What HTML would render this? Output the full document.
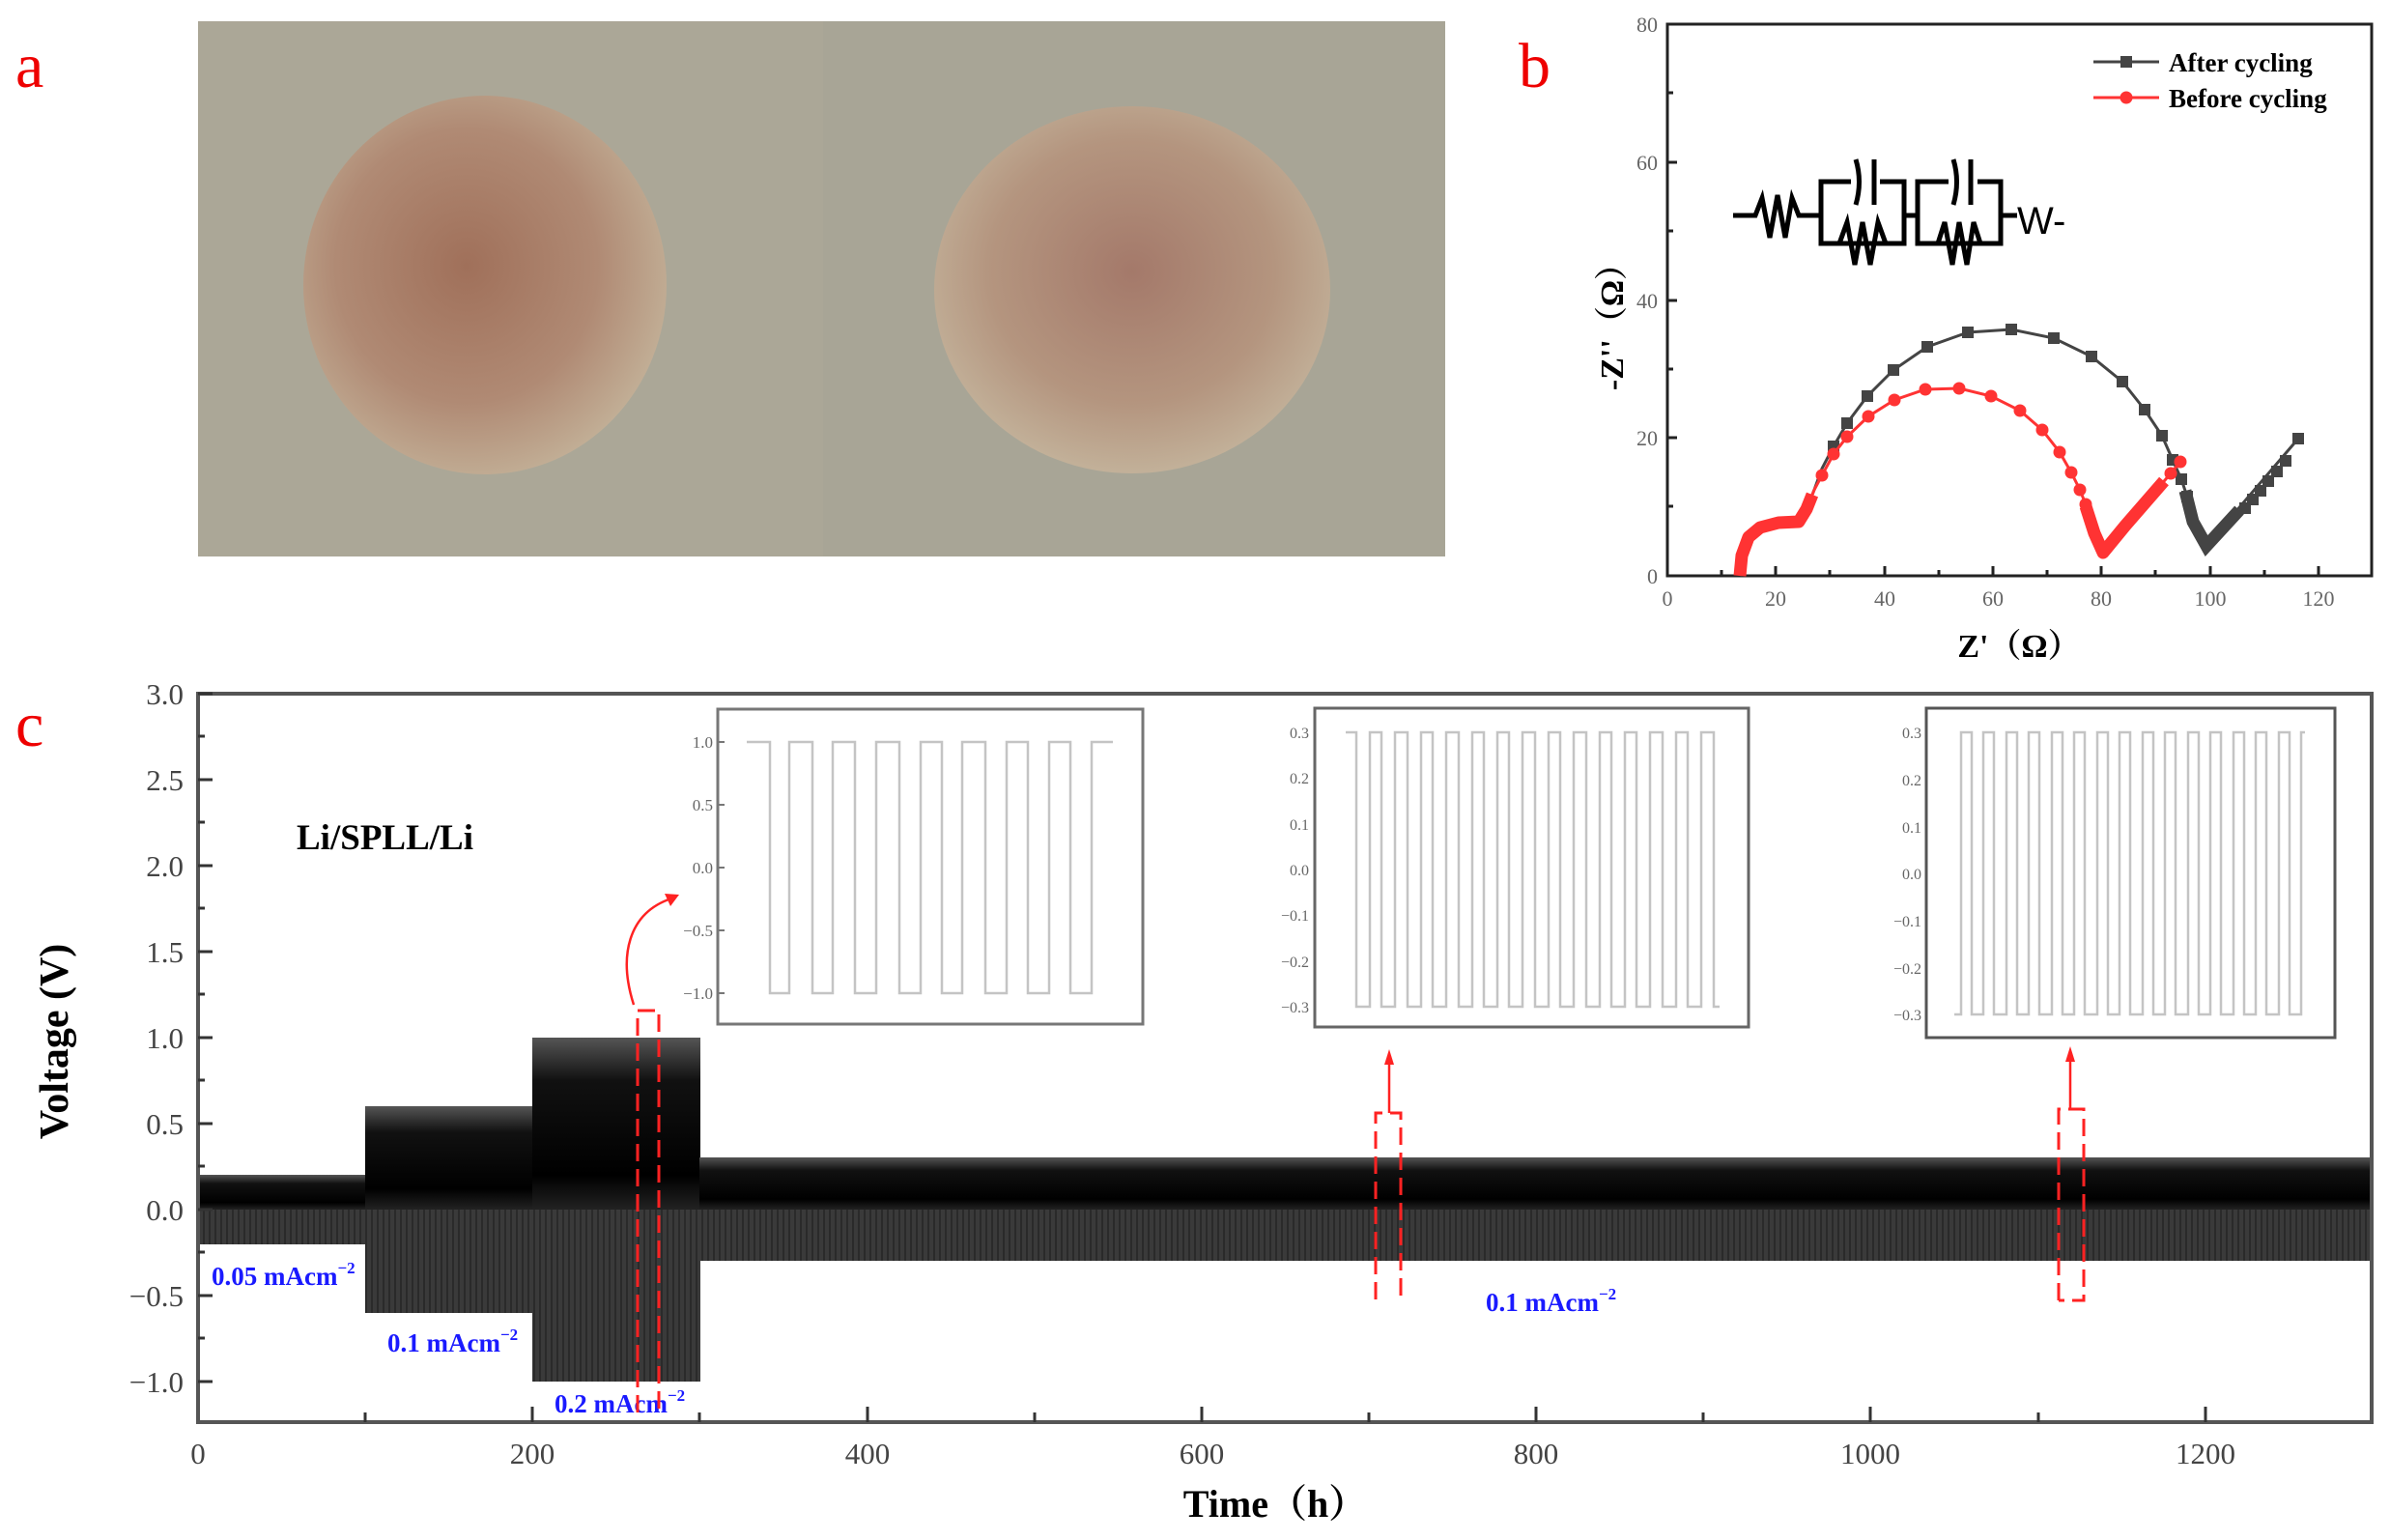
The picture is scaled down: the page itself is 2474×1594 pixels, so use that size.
<!DOCTYPE html>
<html><head><meta charset="utf-8"><style>
html,body{margin:0;padding:0;background:#fff}
svg{display:block}
</style></head><body>
<svg width="2474" height="1594" viewBox="0 0 2474 1594" xmlns="http://www.w3.org/2000/svg" font-family="Liberation Serif, serif">
<defs>
<radialGradient id="d1" cx="0.45" cy="0.45" r="0.6">
<stop offset="0" stop-color="#a0705a"/><stop offset="0.6" stop-color="#b08a74"/><stop offset="1" stop-color="#c4b39a"/></radialGradient>
<radialGradient id="d2" cx="0.5" cy="0.45" r="0.6">
<stop offset="0" stop-color="#a4796a"/><stop offset="0.6" stop-color="#b4957f"/><stop offset="1" stop-color="#c6b8a0"/></radialGradient>
<linearGradient id="up" x1="0" y1="0" x2="0" y2="1">
<stop offset="0" stop-color="#555"/><stop offset="0.25" stop-color="#111"/><stop offset="0.8" stop-color="#000"/><stop offset="1" stop-color="#222"/></linearGradient>
<pattern id="str" width="6" height="10" patternUnits="userSpaceOnUse"><rect width="6" height="10" fill="#3a3a3a"/><rect width="2" height="10" fill="#2a2a2a"/></pattern>
</defs>

<!-- panel a -->
<rect x="205" y="22" width="1291" height="554" fill="#aba797"/>
<rect x="852" y="22" width="644" height="554" fill="#a8a596"/>
<ellipse cx="502" cy="295" rx="188" ry="196" fill="url(#d1)"/>
<ellipse cx="1172" cy="300" rx="205" ry="190" fill="url(#d2)"/>
<text x="16" y="90" font-size="66" fill="#e00">a</text>
<text x="1572" y="90" font-size="66" fill="#e00">b</text>
<text x="16" y="772" font-size="66" fill="#e00">c</text>

<!-- panel b -->
<rect x="1726" y="25" width="729" height="571" fill="none" stroke="#222" stroke-width="3"/>
<g stroke="#222" stroke-width="3">
<line x1="1726" y1="596" x2="1736" y2="596"/>
<line x1="1726" y1="453" x2="1736" y2="453"/><line x1="1726" y1="382" x2="1732" y2="382"/>
<line x1="1726" y1="311" x2="1736" y2="311"/><line x1="1726" y1="239" x2="1732" y2="239"/>
<line x1="1726" y1="168" x2="1736" y2="168"/><line x1="1726" y1="96" x2="1732" y2="96"/>
<line x1="1726" y1="524" x2="1732" y2="524"/>
<line x1="1838" y1="596" x2="1838" y2="586"/><line x1="1951" y1="596" x2="1951" y2="586"/><line x1="2063" y1="596" x2="2063" y2="586"/><line x1="2175" y1="596" x2="2175" y2="586"/><line x1="2288" y1="596" x2="2288" y2="586"/><line x1="2400" y1="596" x2="2400" y2="586"/>
<line x1="1782" y1="596" x2="1782" y2="590"/><line x1="1894" y1="596" x2="1894" y2="590"/><line x1="2007" y1="596" x2="2007" y2="590"/><line x1="2119" y1="596" x2="2119" y2="590"/><line x1="2231" y1="596" x2="2231" y2="590"/><line x1="2344" y1="596" x2="2344" y2="590"/>
</g>
<g font-size="22" fill="#666" text-anchor="end">
<text x="1716" y="604">0</text><text x="1716" y="461">20</text><text x="1716" y="319">40</text><text x="1716" y="176">60</text><text x="1716" y="33">80</text>
</g>
<g font-size="22" fill="#666" text-anchor="middle">
<text x="1726" y="627">0</text><text x="1838" y="627">20</text><text x="1951" y="627">40</text><text x="2063" y="627">60</text><text x="2175" y="627">80</text><text x="2288" y="627">100</text><text x="2400" y="627">120</text>
</g>
<text x="2090" y="680" font-size="34" font-weight="bold" text-anchor="middle" font-family="Liberation Serif, Noto Serif CJK SC, serif">Z'（Ω）</text>
<text transform="translate(1680,330) rotate(-90)" font-size="34" font-weight="bold" text-anchor="middle" font-family="Liberation Serif, Noto Serif CJK SC, serif">-Z''（Ω）</text>

<!-- circuit -->
<g fill="none" stroke="#000" stroke-width="5">
<path d="M1794,223 H1817 L1824,205 L1832,246 L1840,202 L1848,246 L1855,205 L1862,223 H1885"/>
<rect x="1885" y="188" width="86" height="64"/>
<path d="M1971,223 H1985"/>
<rect x="1985" y="188" width="86" height="64"/>
<path d="M2071,223 H2088"/>
<path d="M1904,252 L1912,230 L1920,274 L1928,230 L1936,274 L1944,230 L1952,252"/>
<path d="M2006,252 L2013,230 L2021,274 L2028,230 L2036,274 L2043,230 L2050,252"/>
</g>
<g stroke="#000" stroke-width="5" fill="none">
<rect x="1916" y="180" width="30" height="16" fill="#fff" stroke="none"/>
<path d="M1921,165 Q1928,188 1921,212"/><line x1="1940" y1="165" x2="1940" y2="212"/>
<rect x="2017" y="180" width="30" height="16" fill="#fff" stroke="none"/>
<path d="M2022,165 Q2029,188 2022,212"/><line x1="2040" y1="165" x2="2040" y2="212"/>
</g>
<text x="2088" y="242" font-size="40" font-family="Liberation Sans, sans-serif">W-</text>

<!-- legend -->
<line x1="2167" y1="64" x2="2235" y2="64" stroke="#444" stroke-width="3"/>
<rect x="2195" y="58" width="12" height="12" fill="#444"/>
<text x="2245" y="74" font-size="27" font-weight="bold">After cycling</text>
<line x1="2167" y1="101" x2="2235" y2="101" stroke="#f33" stroke-width="3"/>
<circle cx="2201" cy="101" r="6.5" fill="#f33"/>
<text x="2245" y="111" font-size="27" font-weight="bold">Before cycling</text>

<!-- black series -->
<g>
<polyline fill="none" stroke="#444" stroke-width="3" points="1801,596 1805,567 1820,547 1841,541 1860,541 1870,527 1878,507 1886,485 1898,462 1912,438 1933,410 1960,383 1995,359 2037,344 2082,341 2126,350 2165,369 2197,395 2220,424 2238,451 2249,476 2258,496 2264,514 2284,565 2379,454"/>
<polyline fill="none" stroke="#444" stroke-width="13" points="2262,508 2270,540 2284,565 2318,528"/>
<g fill="#444">
<rect x="1892" y="456" width="12" height="12"/><rect x="1906" y="432" width="12" height="12"/><rect x="1927" y="404" width="12" height="12"/><rect x="1954" y="377" width="12" height="12"/><rect x="1989" y="353" width="12" height="12"/><rect x="2031" y="338" width="12" height="12"/><rect x="2076" y="335" width="12" height="12"/><rect x="2120" y="344" width="12" height="12"/><rect x="2159" y="363" width="12" height="12"/><rect x="2191" y="389" width="12" height="12"/><rect x="2214" y="418" width="12" height="12"/><rect x="2232" y="445" width="12" height="12"/><rect x="2243" y="470" width="12" height="12"/><rect x="2252" y="490" width="12" height="12"/><rect x="2258" y="508" width="12" height="12"/>
<rect x="2318" y="520" width="12" height="12"/><rect x="2326" y="511" width="12" height="12"/><rect x="2334" y="502" width="12" height="12"/><rect x="2342" y="492" width="12" height="12"/><rect x="2351" y="482" width="12" height="12"/><rect x="2360" y="471" width="12" height="12"/><rect x="2373" y="448" width="12" height="12"/>
</g>
</g>
<!-- red series -->
<g>
<polyline fill="none" stroke="#f33" stroke-width="3" points="1801,596 1805,567 1820,547 1841,541 1860,541 1870,527 1878,507 1886,492 1898,470 1912,452 1934,431 1961,414 1993,403 2028,402 2061,410 2091,425 2114,445 2132,468 2144,489 2153,507 2159,522 2177,572 2247,490 2257,478"/>
<polyline fill="none" stroke="#f33" stroke-width="13" stroke-linejoin="round" points="1801,596 1803,575 1810,556 1822,546 1841,541 1862,540 1870,527 1876,512"/>
<polyline fill="none" stroke="#f33" stroke-width="13" stroke-linejoin="round" points="2159,524 2168,552 2177,572 2200,544 2240,498"/>
<g fill="#f33">
<circle cx="1886" cy="492" r="6.5"/><circle cx="1898" cy="470" r="6.5"/><circle cx="1912" cy="452" r="6.5"/><circle cx="1934" cy="431" r="6.5"/><circle cx="1961" cy="414" r="6.5"/><circle cx="1993" cy="403" r="6.5"/><circle cx="2028" cy="402" r="6.5"/><circle cx="2061" cy="410" r="6.5"/><circle cx="2091" cy="425" r="6.5"/><circle cx="2114" cy="445" r="6.5"/><circle cx="2132" cy="468" r="6.5"/><circle cx="2144" cy="489" r="6.5"/><circle cx="2153" cy="507" r="6.5"/><circle cx="2159" cy="522" r="6.5"/><circle cx="2247" cy="490" r="6.5"/><circle cx="2257" cy="478" r="6.5"/>
</g>
</g>

<!-- panel c -->
<!-- bands -->
<rect x="205" y="1216" width="173" height="36" fill="url(#up)"/>
<rect x="205" y="1252" width="173" height="36" fill="url(#str)"/>
<rect x="378" y="1145" width="173" height="107" fill="url(#up)"/>
<rect x="378" y="1252" width="173" height="107" fill="url(#str)"/>
<rect x="551" y="1074" width="174" height="178" fill="url(#up)"/>
<rect x="551" y="1252" width="174" height="178" fill="url(#str)"/>
<rect x="724" y="1198" width="1731" height="54" fill="url(#up)"/>
<rect x="724" y="1252" width="1731" height="53" fill="url(#str)"/>

<rect x="205" y="718" width="2250" height="754" fill="none" stroke="#555" stroke-width="4"/>
<g stroke="#333" stroke-width="3">
<line x1="205" y1="718" x2="220" y2="718"/><line x1="205" y1="807" x2="220" y2="807"/><line x1="205" y1="896" x2="220" y2="896"/><line x1="205" y1="985" x2="220" y2="985"/><line x1="205" y1="1074" x2="220" y2="1074"/><line x1="205" y1="1163" x2="220" y2="1163"/><line x1="205" y1="1252" x2="220" y2="1252"/><line x1="205" y1="1341" x2="220" y2="1341"/><line x1="205" y1="1430" x2="220" y2="1430"/>
<line x1="205" y1="762" x2="212" y2="762"/><line x1="205" y1="851" x2="212" y2="851"/><line x1="205" y1="940" x2="212" y2="940"/><line x1="205" y1="1029" x2="212" y2="1029"/><line x1="205" y1="1118" x2="212" y2="1118"/><line x1="205" y1="1207" x2="212" y2="1207"/><line x1="205" y1="1296" x2="212" y2="1296"/><line x1="205" y1="1385" x2="212" y2="1385"/>
<line x1="378" y1="1472" x2="378" y2="1462"/><line x1="551" y1="1472" x2="551" y2="1456"/><line x1="724" y1="1472" x2="724" y2="1462"/><line x1="898" y1="1472" x2="898" y2="1456"/><line x1="1071" y1="1472" x2="1071" y2="1462"/><line x1="1244" y1="1472" x2="1244" y2="1456"/><line x1="1417" y1="1472" x2="1417" y2="1462"/><line x1="1590" y1="1472" x2="1590" y2="1456"/><line x1="1763" y1="1472" x2="1763" y2="1462"/><line x1="1936" y1="1472" x2="1936" y2="1456"/><line x1="2110" y1="1472" x2="2110" y2="1462"/><line x1="2283" y1="1472" x2="2283" y2="1456"/>
</g>
<g font-size="31" fill="#444" text-anchor="end">
<text x="190" y="729">3.0</text><text x="190" y="818">2.5</text><text x="190" y="907">2.0</text><text x="190" y="996">1.5</text><text x="190" y="1085">1.0</text><text x="190" y="1174">0.5</text><text x="190" y="1263">0.0</text><text x="190" y="1352">−0.5</text><text x="190" y="1441">−1.0</text>
</g>
<g font-size="31" fill="#444" text-anchor="middle">
<text x="205" y="1515">0</text><text x="551" y="1515">200</text><text x="898" y="1515">400</text><text x="1244" y="1515">600</text><text x="1590" y="1515">800</text><text x="1936" y="1515">1000</text><text x="2283" y="1515">1200</text>
</g>
<text x="1320" y="1570" font-size="40" font-weight="bold" text-anchor="middle" font-family="Liberation Serif, Noto Serif CJK SC, serif">Time（h）</text>
<text transform="translate(70,1078) rotate(-90)" font-size="42" font-weight="bold" text-anchor="middle">Voltage (V)</text>
<text x="307" y="879" font-size="37" font-weight="bold">Li/SPLL/Li</text>
<g font-size="27" font-weight="bold" fill="#1a1aff">
<text x="219" y="1330">0.05 mAcm<tspan font-size="17" dy="-12">−2</tspan></text>
<text x="401" y="1399">0.1 mAcm<tspan font-size="17" dy="-12">−2</tspan></text>
<text x="574" y="1462">0.2 mAcm<tspan font-size="17" dy="-12">−2</tspan></text>
<text x="1538" y="1357">0.1 mAcm<tspan font-size="17" dy="-12">−2</tspan></text>
</g>

<!-- red markers -->
<g fill="none" stroke="#f22" stroke-width="3" stroke-dasharray="18,8">
<path d="M660,1462 V1046 H682 V1462"/>
<path d="M1424,1345 V1152 H1450 V1345"/>
<path d="M2131,1346 V1148 H2157 V1346 H2131"/>
</g>
<g fill="none" stroke="#f22" stroke-width="2.5">
<path d="M656,1040 C640,990 650,945 695,930"/>
<path d="M1438,1152 V1100"/>
<path d="M2143,1148 V1095"/>
</g>
<g fill="#f22">
<path d="M703,926 L688,925 L694,938 Z"/>
<path d="M1438,1086 L1433,1102 L1443,1102 Z"/>
<path d="M2143,1083 L2138,1099 L2148,1099 Z"/>
</g>

<!-- inset 1 -->
<rect x="743" y="734" width="440" height="326" fill="#fff" stroke="#777" stroke-width="3"/>
<g stroke="#777" stroke-width="2"><line x1="743" y1="768" x2="750" y2="768"/><line x1="743" y1="833" x2="750" y2="833"/><line x1="743" y1="898" x2="750" y2="898"/><line x1="743" y1="963" x2="750" y2="963"/><line x1="743" y1="1028" x2="750" y2="1028"/></g>
<g font-size="17" fill="#666" text-anchor="end"><text x="738" y="774">1.0</text><text x="738" y="839">0.5</text><text x="738" y="904">0.0</text><text x="738" y="969">−0.5</text><text x="738" y="1034">−1.0</text></g>
<path fill="none" stroke="#c4c4c4" stroke-width="2.5" d="M773,768 H797 V1028 H817 V768 H841 V1028 H862 V768 H885 V1028 H907 V768 H931 V1028 H953 V768 H975 V1028 H996 V768 H1020 V1028 H1042 V768 H1064 V1028 H1086 V768 H1108 V1028 H1130 V768 H1152"/>

<!-- inset 2 -->
<rect x="1361" y="733" width="449" height="330" fill="#fff" stroke="#666" stroke-width="3"/>
<g font-size="16" fill="#666" text-anchor="end"><text x="1355" y="764">0.3</text><text x="1355" y="811">0.2</text><text x="1355" y="859">0.1</text><text x="1355" y="906">0.0</text><text x="1355" y="953">−0.1</text><text x="1355" y="1001">−0.2</text><text x="1355" y="1048">−0.3</text></g>
<path fill="none" stroke="#c4c4c4" stroke-width="2.5" d="M1393,758 H1404 V1042 H1418 V758 H1430 V1042 H1444 V758 H1457 V1042 H1471 V758 H1483 V1042 H1497 V758 H1510 V1042 H1524 V758 H1536 V1042 H1550 V758 H1562 V1042 H1576 V758 H1589 V1042 H1603 V758 H1615 V1042 H1629 V758 H1642 V1042 H1656 V758 H1668 V1042 H1682 V758 H1694 V1042 H1708 V758 H1721 V1042 H1735 V758 H1747 V1042 H1761 V758 H1774 V1042 H1780"/>

<!-- inset 3 -->
<rect x="1994" y="733" width="423" height="341" fill="#fff" stroke="#555" stroke-width="3"/>
<g font-size="16" fill="#666" text-anchor="end"><text x="1989" y="764">0.3</text><text x="1989" y="813">0.2</text><text x="1989" y="862">0.1</text><text x="1989" y="910">0.0</text><text x="1989" y="959">−0.1</text><text x="1989" y="1008">−0.2</text><text x="1989" y="1056">−0.3</text></g>
<path fill="none" stroke="#c4c4c4" stroke-width="2.5" d="M2023,1050 H2030 V758 H2041 V1050 H2053 V758 H2064 V1050 H2077 V758 H2088 V1050 H2100 V758 H2111 V1050 H2124 V758 H2135 V1050 H2147 V758 H2158 V1050 H2171 V758 H2182 V1050 H2194 V758 H2205 V1050 H2218 V758 H2229 V1050 H2241 V758 H2252 V1050 H2265 V758 H2276 V1050 H2288 V758 H2299 V1050 H2312 V758 H2323 V1050 H2335 V758 H2346 V1050 H2359 V758 H2370 V1050 H2382 V758 H2386"/>
</svg>
</body></html>
